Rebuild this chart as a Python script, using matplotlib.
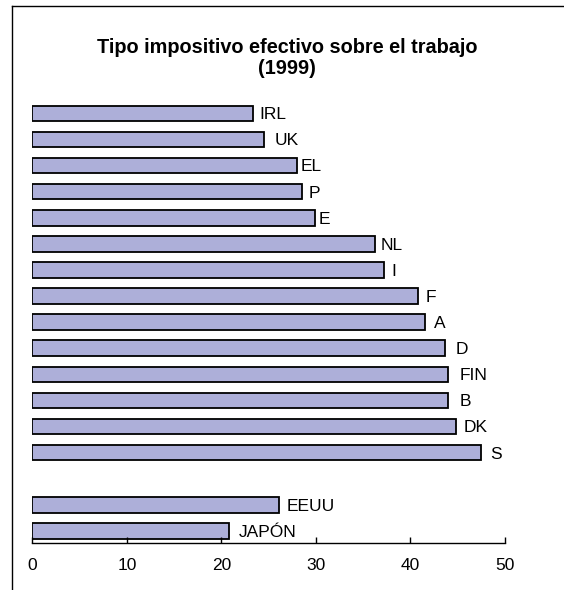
import numpy as np
import matplotlib.pyplot as plt
from matplotlib.lines import Line2D

plt.rcParams['font.family'] = ['Liberation Sans', 'DejaVu Sans']

# data
countries = ['IRL', 'UK', 'EL', 'P', 'E', 'NL', 'I', 'F', 'A', 'D', 'FIN', 'B',
             'DK', 'S', 'EEUU', 'JAPÓN']
rates = [23.3, 24.5, 28.0, 28.5, 29.9, 36.3, 37.2, 40.8, 41.5, 43.7, 44.0, 44.0,
         44.8, 47.5, 26.1, 20.8]
# slot in the chart (one empty slot between EU and the rest)
slots = list(range(14)) + [15, 16]
xticks = [0, 10, 20, 30, 40, 50]
# gap between bar end and label, in pixels (as in the original layout)
label_gap = [7, 11, 4, 7, 4, 5, 7, 8, 9, 10.5, 11.5, 11.5, 8, 8.5, 7.5, 10]


def main():
    fig = plt.figure(figsize=(5.64, 5.90), dpi=100)
    ax = fig.add_axes([0.0573, 0.0802, 0.8381, 0.7476])

    ax.barh(slots, rates, height=0.6, left=0, color='#adafd9',
            edgecolor='black', linewidth=1.3)
    for y, v, name, gap in zip(slots, rates, countries, label_gap):
        ax.annotate(name, (v, y), xytext=(gap * 0.72, -1), textcoords='offset points',
                    ha='left', va='center', fontsize=12.5, annotation_clip=False)

    ax.set_xlim(0, 50)
    ax.set_ylim(16.45, -0.45)
    ax.set_xticks(xticks)
    ax.set_yticks([])
    ax.tick_params(axis='x', direction='in', length=4, width=1, labelsize=12.5, pad=11)
    for side in ['top', 'right', 'left']:
        ax.spines[side].set_visible(False)
    ax.spines['bottom'].set_linewidth(1)

    fig.text(0.509, 0.902, 'Tipo impositivo efectivo sobre el trabajo\n(1999)',
             ha='center', va='center', fontsize=14.3, fontweight='bold',
             linespacing=1.15)

    # chart frame (top and left edges visible)
    fig.add_artist(Line2D([11.7 / 564, 11.7 / 564], [0, 1 - 6 / 590],
                          transform=fig.transFigure, color='black', lw=1))
    fig.add_artist(Line2D([11.7 / 564, 1], [1 - 6 / 590, 1 - 6 / 590],
                          transform=fig.transFigure, color='black', lw=1))

    fig.savefig('out.png', dpi=100)


if __name__ == '__main__':
    main()
